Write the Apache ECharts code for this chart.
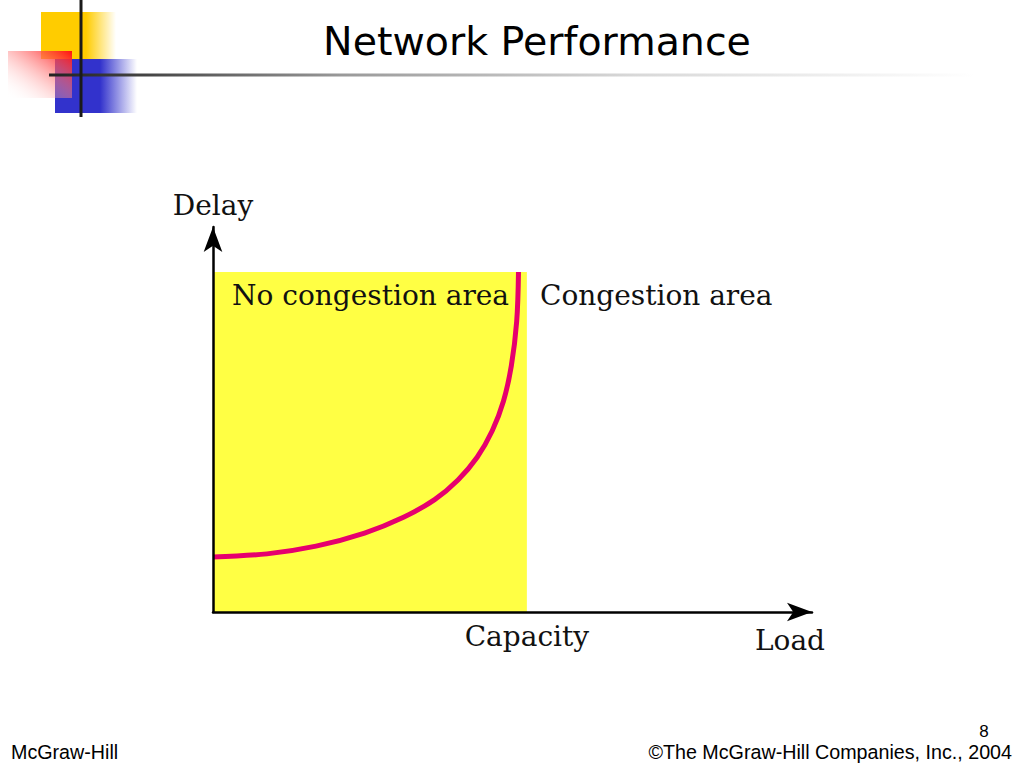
<!DOCTYPE html>
<html>
<head>
<meta charset="utf-8">
<title>Network Performance</title>
<script src="https://cdn.jsdelivr.net/npm/echarts@6/dist/echarts.min.js"></script>
<style>
  html, body { margin: 0; padding: 0; background: #ffffff; }
  #chart { width: 1024px; height: 768px; }
</style>
</head>
<body>
<div id="chart"></div>
<script>
// ---- data ----
const loadValues  = [0, 9.0, 17.2, 25.3, 31.8, 37.0, 40.9, 44.1, 46.6, 48.5, 49.8, 50.7, 51.0];
const delayValues = [14.3, 15.1, 17.1, 20.5, 24.6, 29.2, 34.3, 40.2, 47.0, 54.8, 63.9, 75.5, 88.3];
const capacityValue = 52.4;      // load at capacity (right edge of the yellow region)
const regionTopValue = 88.3;     // top of the yellow "no congestion" region
const axisMax = 100;
const capacityLabels = ['Capacity'];
const regionLabels = ['No congestion area', 'Congestion area'];
const axisNames = { x: 'Load', y: 'Delay' };

const curve = loadValues.map((x, i) => [x, delayValues[i]]);

const serif = 'DejaVu Serif, Liberation Serif, serif';
const sans = 'Liberation Sans, Arial, sans-serif';

const chart = echarts.init(document.getElementById('chart'), null, { renderer: 'svg' });

const option = {
  backgroundColor: '#ffffff',
  animation: false,
  grid: { left: 213, top: 227, right: 212, bottom: 156, containLabel: false },
  xAxis: {
    type: 'value',
    min: 0,
    max: axisMax,
    z: 10,
    name: axisNames.x,
    nameLocation: 'end',
    nameGap: -22,
    nameTextStyle: {
      fontFamily: serif, fontSize: 28, color: '#111',
      align: 'center', verticalAlign: 'top', padding: [14, 0, 0, 0]
    },
    axisLine: {
      show: true,
      symbol: ['none', 'arrow'],
      symbolSize: [14, 25],
      lineStyle: { color: '#000', width: 2.5 }
    },
    axisTick: { show: false },
    splitLine: { show: false },
    axisLabel: {
      show: true,
      customValues: [capacityValue],
      formatter: () => capacityLabels[0],
      fontFamily: serif, fontSize: 28, color: '#111',
      margin: 10
    }
  },
  yAxis: {
    type: 'value',
    min: 0,
    max: axisMax,
    z: 10,
    name: axisNames.y,
    nameLocation: 'end',
    nameGap: 22,
    nameTextStyle: {
      fontFamily: serif, fontSize: 28, color: '#111',
      align: 'center', verticalAlign: 'middle'
    },
    axisLine: {
      show: true,
      symbol: ['none', 'arrow'],
      symbolSize: [14, 25],
      lineStyle: { color: '#000', width: 2.5 }
    },
    axisTick: { show: false },
    splitLine: { show: false },
    axisLabel: { show: false }
  },
  series: [{
    type: 'line',
    data: curve,
    smooth: 0.35,
    symbol: 'none',
    lineStyle: { color: '#e6006e', width: 5, cap: 'butt' },
    z: 5,
    markArea: {
      silent: true,
      itemStyle: { color: '#ffff44', opacity: 1 },
      data: [[{ coord: [0, 0] }, { coord: [capacityValue, regionTopValue] }]]
    }
  }],
  graphic: [
    // decorative blocks (top-left)
    { type: 'rect', z: 1, shape: { x: 41, y: 12, width: 75, height: 47 },
      style: { fill: { type: 'linear', x: 0, y: 0, x2: 1, y2: 0,
        colorStops: [{ offset: 0, color: '#ffcc00' }, { offset: 0.6, color: '#ffcc00' },
                     { offset: 1, color: 'rgba(255,204,0,0)' }] } } },
    { type: 'rect', z: 2, shape: { x: 55, y: 59, width: 82, height: 54 },
      style: { fill: { type: 'linear', x: 0, y: 0, x2: 1, y2: 0,
        colorStops: [{ offset: 0, color: '#3232cc' }, { offset: 0.55, color: '#3232cc' },
                     { offset: 1, color: 'rgba(50,50,204,0)' }] } } },
    { type: 'rect', z: 3, shape: { x: 8, y: 51, width: 64, height: 47 },
      style: { fill: { type: 'linear', x: 0, y: 1, x2: 1, y2: 0,
        colorStops: [{ offset: 0, color: 'rgba(255,255,255,0)' }, { offset: 1, color: '#ff1010' }] } } },
    { type: 'rect', z: 4, shape: { x: 49, y: 73.5, width: 975, height: 3 },
      style: { fill: { type: 'linear', x: 0, y: 0, x2: 1, y2: 0,
        colorStops: [{ offset: 0, color: '#222' }, { offset: 0.1, color: '#444' },
                     { offset: 0.3, color: '#999' }, { offset: 0.6, color: '#d8d8d8' },
                     { offset: 0.95, color: '#ffffff' }] } } },
    { type: 'rect', z: 5, shape: { x: 79.5, y: 0, width: 3, height: 117 },
      style: { fill: '#1a1a1a' } },
    // title
    { type: 'text', z: 6, x: 537, y: 41,
      style: { text: 'Network Performance', font: '39.5px DejaVu Sans, sans-serif',
               fill: '#000', align: 'center', verticalAlign: 'middle' } },
    // region labels
    { type: 'text', z: 20, x: 232, y: 295,
      style: { text: regionLabels[0], font: '28px ' + serif, fill: '#111',
               align: 'left', verticalAlign: 'middle' } },
    { type: 'text', z: 20, x: 540, y: 295,
      style: { text: regionLabels[1], font: '28px ' + serif, fill: '#111',
               align: 'left', verticalAlign: 'middle' } },
    // footer
    { type: 'text', z: 20, x: 11, y: 752,
      style: { text: 'McGraw-Hill', font: '19.7px ' + sans, fill: '#000',
               align: 'left', verticalAlign: 'middle', lineHeight: 18 } },
    { type: 'text', z: 20, x: 1012, y: 751.5,
      style: { text: '\u00A9The McGraw-Hill Companies, Inc., 2004', font: '19.7px ' + sans, fill: '#000',
               align: 'right', verticalAlign: 'middle', lineHeight: 16 } },
    { type: 'text', z: 20, x: 984, y: 731,
      style: { text: '8', font: '17px ' + sans, fill: '#000',
               align: 'center', verticalAlign: 'middle', lineHeight: 14 } }
  ]
};

chart.setOption(option);
</script>
</body>
</html>
